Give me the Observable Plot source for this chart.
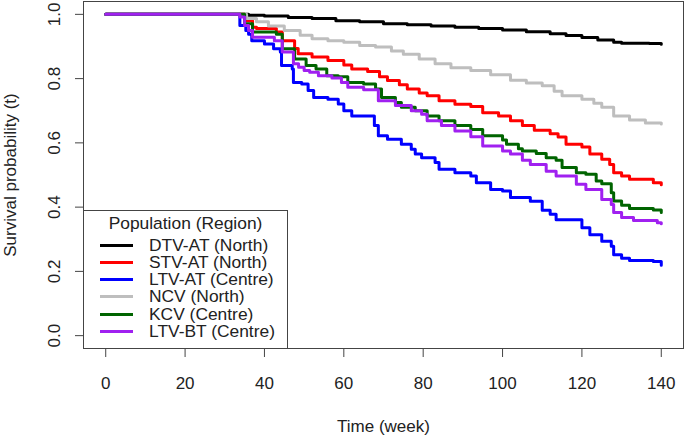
<!DOCTYPE html>
<html><head><meta charset="utf-8">
<script src="https://cdn.jsdelivr.net/npm/d3@7"></script>
<script src="https://cdn.jsdelivr.net/npm/@observablehq/plot@0.6"></script>
<style>
body{margin:0;background:#fff;font-family:"Liberation Sans",Arial,sans-serif;}
#wrap{position:relative;width:685px;height:436px;}
#legend{position:absolute;left:83px;top:210px;width:203px;height:137px;border:1px solid #444;background:#fff;color:#222;font-size:17.4px;}
#legend .ttl{position:absolute;left:0;right:0;top:2px;text-align:center;line-height:20px;}
#legend .row{position:absolute;left:0;height:17px;line-height:17px;white-space:nowrap;}
#legend .sw{position:absolute;left:16px;top:7px;width:33px;height:3px;}
#legend .lb{position:absolute;left:65px;top:0;line-height:17px;}
</style></head><body><div id="wrap"></div>
<script>
const populations = ["DTV-AT (North)","STV-AT (North)","LTV-AT (Centre)","NCV (North)","KCV (Centre)","LTV-BT (Centre)"];
const colors = ["#000000","#ff0000","#0000ff","#bebebe","#006400","#a020f0"];
const xTicks = [0,20,40,60,80,100,120,140];
const yTicks = [0,0.2,0.4,0.6,0.8,1.0];

const dtvT = [0,34,36,40,46,52,58,64,70,76,82,88,94,100,106,112,116,120,124,128,130,137,140];
const dtvS = [1,1,0.997,0.995,0.99,0.987,0.98,0.977,0.971,0.968,0.964,0.96,0.956,0.951,0.946,0.94,0.934,0.928,0.92,0.913,0.91,0.909,0.907];

const stvT = [0,34.5,35,37,38,43,44.5,47.6,48.5,52,56,60,62,66,69,71,74,76,79,81,84,88,92,95,99,102,105,108,112,114,116,120,122,125,127,128,130,132,138,140];
const stvS = [1,1,0.98,0.96,0.956,0.945,0.918,0.894,0.877,0.867,0.856,0.842,0.83,0.822,0.806,0.794,0.781,0.768,0.755,0.747,0.731,0.72,0.713,0.694,0.684,0.669,0.654,0.639,0.628,0.618,0.596,0.587,0.565,0.549,0.533,0.507,0.497,0.487,0.476,0.47];

const ltvaT = [0,33.8,35.3,36,36.8,40,42.3,44,44.3,47,47.3,49.4,51,52.4,56,58.6,60,62,65,67.7,68.7,71,74.5,77,78,79.6,83,84,88,92,93.4,97,100,102,107,110,112,113.5,120,122,125,127.4,128,130,132,138,140];
const ltvaS = [1,0.965,0.95,0.938,0.918,0.908,0.893,0.883,0.841,0.83,0.788,0.783,0.763,0.741,0.736,0.721,0.7,0.684,0.684,0.654,0.622,0.611,0.596,0.58,0.565,0.554,0.539,0.518,0.507,0.497,0.476,0.455,0.45,0.43,0.418,0.39,0.378,0.361,0.336,0.314,0.294,0.278,0.252,0.241,0.234,0.231,0.219];

const ncvT = [0,35,35.5,38,41,45,49,52,56,60,64,68,72,75,79,83,87,92,97,102,106,110,113,115,120,123,125,128,132,136,140];
const ncvS = [1,1,0.987,0.977,0.964,0.95,0.935,0.924,0.918,0.913,0.903,0.898,0.886,0.876,0.861,0.846,0.834,0.825,0.812,0.795,0.786,0.778,0.761,0.747,0.736,0.723,0.711,0.684,0.671,0.662,0.659];

const kcvT = [0,34.5,35,37,43,44.5,47.6,50.5,53,55.7,58.6,61,65,68,69.5,73,74.5,78,81,84,88,92,95,100,101,104,105,108.5,111,113.5,115,118.6,121,123.6,125,127.4,128,130,132,138,140];
const kcvS = [1,1,0.971,0.945,0.938,0.893,0.861,0.841,0.83,0.809,0.806,0.788,0.783,0.768,0.741,0.726,0.711,0.7,0.684,0.669,0.654,0.642,0.622,0.609,0.596,0.582,0.575,0.567,0.554,0.546,0.523,0.507,0.502,0.481,0.473,0.445,0.419,0.406,0.396,0.391,0.383];

const ltvbT = [0,33.8,35,36,37,42.5,44.5,47.3,48.6,50,51.4,53.6,57,59.4,61,65,68.7,73,77,79.6,81,84.6,88,92,95,100,102,105,107,111,113.5,118.6,121,125,127.4,128,130,133,139,140];
const ltvbS = [1,0.992,0.965,0.95,0.929,0.918,0.883,0.846,0.835,0.825,0.82,0.809,0.802,0.788,0.773,0.765,0.731,0.716,0.7,0.689,0.669,0.654,0.637,0.619,0.59,0.575,0.565,0.546,0.533,0.512,0.497,0.471,0.455,0.424,0.408,0.383,0.368,0.358,0.351,0.348];

const seriesT = [dtvT, stvT, ltvaT, ncvT, kcvT, ltvbT];
const seriesS = [dtvS, stvS, ltvaS, ncvS, kcvS, ltvbS];
const rows = [];
populations.forEach((p, i) => seriesT[i].forEach((t, j) => rows.push({pop: p, t, s: seriesS[i][j]})));

const chart = Plot.plot({
  width: 685, height: 436,
  marginLeft: 83, marginRight: 2, marginTop: 1, marginBottom: 88,
  x: {domain: [-5.6, 145.6]},
  y: {domain: [-0.04, 1.04]},
  color: {domain: populations, range: colors},
  style: {fontFamily: "Liberation Sans, Arial, sans-serif", fontSize: "17px", color: "#222", background: "#fff", overflow: "visible"},
  marks: [
    Plot.axisX(xTicks, {tickSize: 9, tickPadding: 19, stroke: "#444", label: "Time (week)", labelAnchor: "center", labelOffset: 83, labelArrow: "none"}),
    Plot.axisY(yTicks, {tickSize: 8, stroke: "#444", tickFormat: () => "", label: "Survival probability (t)", labelAnchor: "center", labelOffset: 80, labelArrow: "none"}),
    Plot.text(yTicks, {y: d => d, text: d3.format(".1f"), frameAnchor: "left", dx: -29, rotate: -90, textAnchor: "middle", lineAnchor: "middle", fill: "#222"}),
    Plot.line(rows, {x: "t", y: "s", z: "pop", stroke: "pop", strokeWidth: 3, curve: "step-after"}),
    Plot.frame({stroke: "#444"})
  ]
});
const wrap = document.getElementById("wrap");
wrap.appendChild(chart);

const lg = document.createElement("div");
lg.id = "legend";
let html = '<div class="ttl">Population (Region)</div>';
populations.forEach((p, i) => {
  html += `<div class="row" style="top:${25.5 + i * 17.3}px;width:100%"><div class="sw" style="background:${colors[i]}"></div><div class="lb">${p}</div></div>`;
});
lg.innerHTML = html;
wrap.appendChild(lg);
</script>
</body></html>
